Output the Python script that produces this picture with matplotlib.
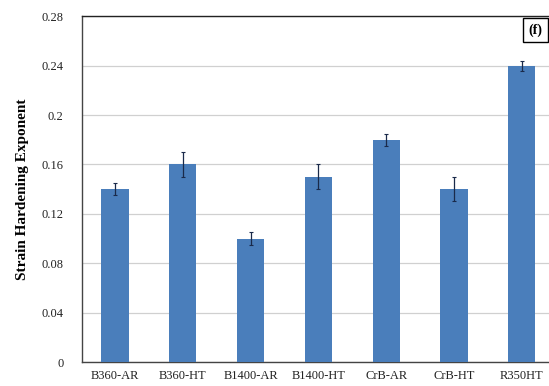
import matplotlib.pyplot as plt
import numpy as np

plt.rcParams['font.family'] = ['Liberation Serif', 'DejaVu Serif']

samples = ['B360-AR', 'B360-HT', 'B1400-AR', 'B1400-HT', 'CrB-AR', 'CrB-HT', 'R350HT']
n_values = [0.14, 0.16, 0.10, 0.15, 0.18, 0.14, 0.24]
n_err = [0.005, 0.01, 0.005, 0.01, 0.005, 0.01, 0.004]
yticks = [0, 0.04, 0.08, 0.12, 0.16, 0.2, 0.24, 0.28]
ytick_labels = ['0', '0.04', '0.08', '0.12', '0.16', '0.2', '0.24', '0.28']

fig = plt.figure(figsize=(5.49, 3.86), dpi=100)
ax = fig.add_axes([0.149, 0.062, 0.862, 0.896])

x = np.arange(len(samples))
ax.bar(x, n_values, width=0.4, color='#4a7ebb', zorder=3,
       yerr=n_err, error_kw=dict(ecolor='#1a2a4a', elinewidth=0.9, capsize=1.5, capthick=0.8))

ax.set_ylim(0, 0.28)
ax.set_xlim(-0.49, len(samples) - 0.51)
ax.set_yticks(yticks)
ax.set_yticklabels(ytick_labels)
ax.set_xticks(x)
ax.set_xticklabels(samples)
ax.tick_params(axis='both', length=0, labelsize=9, colors='#222222', pad=6)
ax.tick_params(axis='y', pad=13)
ax.grid(axis='y', color='#d0d0d0', linewidth=0.9, zorder=0)

for side in ['left', 'bottom']:
    ax.spines[side].set_color('#444444')
    ax.spines[side].set_linewidth(1.0)
ax.spines['top'].set_color('#222222')
ax.spines['top'].set_linewidth(1.0)
ax.spines['right'].set_visible(False)

ax.set_ylabel('Strain Hardening Exponent', fontsize=11, fontweight='bold', labelpad=9)

# panel tag, box runs off the right edge
fig.text(0.962, 0.922, '(f)', fontsize=10, fontweight='bold', ha='left', va='center',
         bbox=dict(boxstyle='square,pad=0.4', facecolor='white', edgecolor='black', linewidth=1.0))

fig.savefig('out.png', dpi=100)
